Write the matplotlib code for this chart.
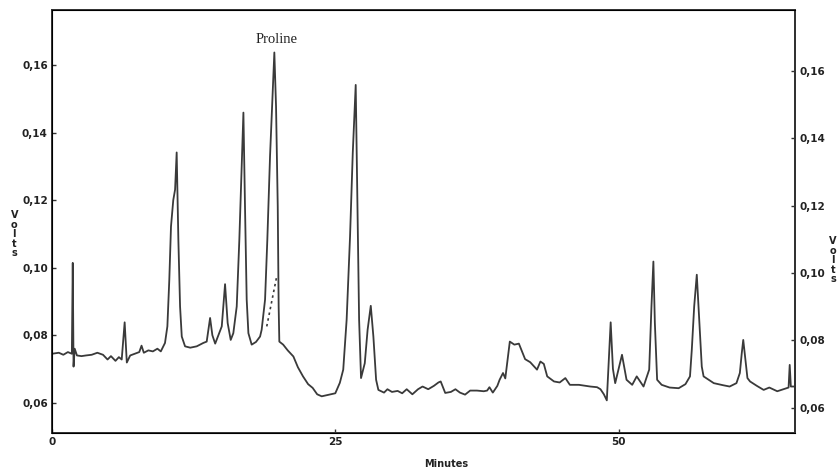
import matplotlib
matplotlib.use("Agg")
import matplotlib.pyplot as plt

# chromatogram trace (minutes, volts)
minutes = [
    0.0, 0.6, 1.0, 1.4, 1.75, 1.83, 1.9, 2.0, 2.2, 2.6, 3.0, 3.5, 4.0, 4.5, 4.9,
    5.2, 5.6, 5.9, 6.15, 6.41, 6.6, 6.9, 7.3, 7.7, 7.9, 8.1, 8.5, 8.9, 9.3, 9.6,
    9.97, 10.18, 10.35, 10.5, 10.7, 10.86, 11.0, 11.15, 11.3, 11.45, 11.74,
    12.2, 12.77, 13.35, 13.65, 13.95, 14.15, 14.4, 14.98, 15.27, 15.5, 15.77,
    16.0, 16.3, 16.53, 16.74, 16.89, 17.03, 17.18, 17.33, 17.62, 18.0, 18.36,
    18.5, 18.8, 19.0, 19.24, 19.48, 19.62, 19.77, 19.92, 20.0, 20.06, 20.4,
    20.8, 21.3, 21.7, 22.15, 22.6, 23.0, 23.4, 23.8, 24.2, 24.6, 25.0, 25.4,
    25.7, 26.0, 26.3, 26.54, 26.8, 26.95, 27.1, 27.27, 27.6, 27.85, 28.13,
    28.36, 28.6, 28.8, 29.3, 29.6, 30.0, 30.5, 30.9, 31.3, 31.8, 32.3, 32.7,
    33.2, 33.7, 34.1, 34.3, 34.7, 35.2, 35.6, 36.0, 36.45, 36.9, 37.5, 38.1,
    38.4, 38.6, 38.9, 39.3, 39.5, 39.8, 40.0, 40.4, 40.8, 41.2, 41.75, 42.2,
    42.8, 43.1, 43.4, 43.7, 44.3, 44.8, 45.3, 45.7, 46.5, 47.5, 48.1, 48.4,
    48.7, 48.96, 49.3, 49.5, 49.7, 50.3, 50.7, 51.2, 51.6, 52.2, 52.7, 52.9,
    53.07, 53.2, 53.4, 53.8, 54.5, 55.3, 55.9, 56.3, 56.46, 56.67, 56.9, 57.13,
    57.34, 57.5, 58.4, 59.2, 59.8, 60.4, 60.7, 60.87, 61.0, 61.16, 61.37, 61.6,
    62.2, 62.8, 63.3, 64.0, 64.8, 65.0, 65.1, 65.2, 65.4,
]
volts = [
    0.0745, 0.0748, 0.0742, 0.0750, 0.0745, 0.1014, 0.0707, 0.0760, 0.0740,
    0.0738, 0.0740, 0.0742, 0.0748, 0.0742, 0.0728, 0.0738, 0.0724, 0.0735,
    0.0728, 0.0838, 0.0719, 0.0740, 0.0745, 0.0750, 0.0769, 0.0748, 0.0755,
    0.0752, 0.0760, 0.0752, 0.0777, 0.0826, 0.0964, 0.1122, 0.1200, 0.1231,
    0.1341, 0.1082, 0.0885, 0.0796, 0.0767, 0.0763, 0.0767, 0.0777, 0.0781,
    0.0851, 0.0800, 0.0775, 0.0826, 0.0951, 0.0836, 0.0786, 0.0806, 0.0885,
    0.1082, 0.1300, 0.1459, 0.1181, 0.0905, 0.0806, 0.0772, 0.0780, 0.0796,
    0.0816, 0.0905, 0.1082, 0.1330, 0.1526, 0.1637, 0.1477, 0.1181, 0.0885,
    0.0781, 0.0772, 0.0755, 0.0737, 0.0705, 0.0678, 0.0655, 0.0644, 0.0625,
    0.0619, 0.0622, 0.0625, 0.0628, 0.0659, 0.0698, 0.0846, 0.1092, 0.1339,
    0.1541, 0.1191, 0.0846, 0.0673, 0.0717, 0.0816, 0.0887, 0.0796, 0.0668,
    0.0638, 0.0630, 0.0640, 0.0632, 0.0635, 0.0628, 0.0640, 0.0625, 0.0640,
    0.0648, 0.0640, 0.0650, 0.0660, 0.0663, 0.0629, 0.0632, 0.0640, 0.0630,
    0.0624, 0.0636, 0.0636, 0.0634, 0.0636, 0.0646, 0.0630, 0.0650, 0.0668,
    0.0688, 0.0672, 0.0781, 0.0772, 0.0775, 0.0729, 0.0720, 0.0698, 0.0722,
    0.0715, 0.0678, 0.0663, 0.0660, 0.0673, 0.0653, 0.0653, 0.0648, 0.0646,
    0.0640, 0.0625, 0.0607, 0.0838, 0.0700, 0.0658, 0.0742, 0.0668, 0.0653,
    0.0678, 0.0648, 0.0698, 0.0885, 0.1018, 0.0836, 0.0668, 0.0653, 0.0645,
    0.0643, 0.0655, 0.0678, 0.0757, 0.0885, 0.0979, 0.0836, 0.0707, 0.0678,
    0.0658, 0.0652, 0.0648, 0.0658, 0.0688, 0.0747, 0.0786, 0.0737, 0.0673,
    0.0663, 0.0650, 0.0638, 0.0645, 0.0634, 0.0643, 0.0645, 0.0712, 0.0648,
    0.0648,
]

# dotted baseline drawn under the proline peak
drop_minutes = [18.95, 19.83]
drop_volts = [0.0826, 0.0974]

x_ticks = [0, 25, 50]
x_labels = ["0", "25", "50"]
y_ticks = [0.06, 0.08, 0.10, 0.12, 0.14, 0.16]
y_labels = ["0,06", "0,08", "0,10", "0,12", "0,14", "0,16"]

line_col = "#3a3a3a"
tick_font = dict(fontsize=7.5, fontweight="bold", color="#222222")

fig = plt.figure(figsize=(8.39, 4.73), dpi=100)
ax = fig.add_axes([0.062, 0.085, 0.886, 0.894])

ax.plot(minutes, volts, color=line_col, lw=1.3)
ax.plot(drop_minutes, drop_volts, color=line_col, lw=1.2, ls=(0, (1.5, 2.0)))

ax.set_xlim(0, 65.6)
ax.set_ylim(0.0511, 0.1763)

ax.set_xticks(x_ticks)
ax.set_xticklabels(x_labels, **tick_font)
ax.set_yticks(y_ticks)
ax.set_yticklabels(y_labels, **tick_font)
ax.tick_params(axis="both", direction="in", length=3, width=1, pad=3, color="#333333")

for sp in ax.spines.values():
    sp.set_linewidth(1.4)
    sp.set_color("#333333")

# right-hand volts scale
ax2 = ax.twinx()
ax2.set_ylim(0.0526, 0.1781)
ax2.set_yticks(y_ticks)
ax2.set_yticklabels(y_labels, **tick_font)
ax2.tick_params(axis="y", direction="in", length=3, width=1, pad=3, color="#333333")
ax2.spines["right"].set_linewidth(1.4)
ax2.spines["right"].set_color("#333333")

ax.text(19.8, 0.1655, "Proline", fontsize=10.5, family="Liberation Serif",
        ha="center", va="bottom", color="#222222")

fig.text(0.017, 0.505, "V\no\nl\nt\ns", fontsize=7, fontweight="bold",
         ha="center", va="center", linespacing=0.95, color="#222222")
fig.text(0.993, 0.45, "V\no\nl\nt\ns", fontsize=7, fontweight="bold",
         ha="center", va="center", linespacing=0.95, color="#222222")
fig.text(0.532, 0.02, "Minutes", fontsize=7, fontweight="bold",
         ha="center", va="center", color="#222222")

fig.savefig("out.png", dpi=100)
